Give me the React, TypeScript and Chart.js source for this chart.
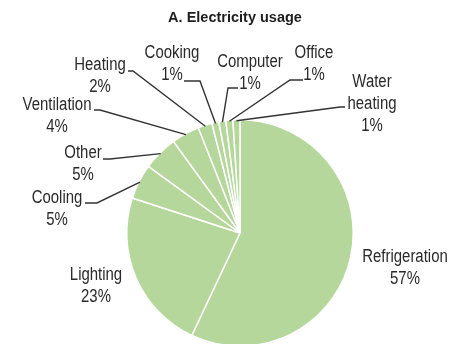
import React, { useEffect, useRef } from "react";
import { Chart, registerables } from "chart.js";

Chart.register(...registerables);

const TITLE = "A. Electricity usage";
const categories = [
  "Refrigeration",
  "Lighting",
  "Cooling",
  "Other",
  "Ventilation",
  "Heating",
  "Cooking",
  "Computer",
  "Office",
  "Water heating",
];
const shares = [57, 23, 5, 5, 4, 2, 1, 1, 1, 1];

// Label layout (text centre x, first-line y, optional leader start and elbow)
type LabelPos = { x: number; y: number; start?: [number, number]; elbow?: [number, number] };
const labelLayout: LabelPos[] = [
  { x: 405, y: 257 },
  { x: 96, y: 275 },
  { x: 57, y: 198, start: [85, 203], elbow: [97, 203] },
  { x: 83, y: 153, start: [103, 159], elbow: [110, 159] },
  { x: 57, y: 105, start: [94, 110], elbow: [100, 110] },
  { x: 100, y: 65, start: [128, 71], elbow: [133, 71] },
  { x: 172, y: 53, start: [184, 81], elbow: [200, 81] },
  { x: 250, y: 62, start: [238, 88], elbow: [228, 88] },
  { x: 314, y: 53, start: [303, 80], elbow: [290, 80] },
  { x: 372, y: 82, start: [345, 107], elbow: [340, 107] },
];

const FONT = '18px "Liberation Sans", Arial, sans-serif';
const NARROW = 0.83;
const TEXT_COLOR = "#2a2a2a";
const LINE_H = 22;

const labelPlugin = {
  id: "pieLabels",
  afterDraw(chart: any) {
    const ctx = chart.ctx as CanvasRenderingContext2D;
    const meta = chart.getDatasetMeta(0);
    ctx.save();
    // title
    ctx.fillStyle = "#1e1e1e";
    ctx.font = 'bold 14.5px "Liberation Sans", Arial, sans-serif';
    ctx.textAlign = "center";
    ctx.textBaseline = "middle";
    ctx.fillText(TITLE, 235, 18);

    meta.data.forEach((arc: any, i: number) => {
      const p = arc.getProps(["x", "y", "startAngle", "endAngle", "outerRadius"], true);
      const mid = (p.startAngle + p.endAngle) / 2;
      const lay = labelLayout[i];
      if (lay.start && lay.elbow) {
        const ex = p.x + Math.cos(mid) * (p.outerRadius - 1);
        const ey = p.y + Math.sin(mid) * (p.outerRadius - 1);
        ctx.strokeStyle = "#333333";
        ctx.lineWidth = 1.4;
        ctx.beginPath();
        ctx.moveTo(lay.start[0], lay.start[1]);
        ctx.lineTo(lay.elbow[0], lay.elbow[1]);
        ctx.lineTo(ex, ey);
        ctx.stroke();
      }
      const lines = [...categories[i].split(" "), `${shares[i]}%`];
      ctx.fillStyle = TEXT_COLOR;
      ctx.font = FONT;
      lines.forEach((ln, k) => {
        ctx.save();
        ctx.translate(lay.x, lay.y + k * LINE_H);
        ctx.scale(NARROW, 1);
        ctx.fillText(ln, 0, 0);
        ctx.restore();
      });
    });
    ctx.restore();
  },
};

export default function App() {
  const ref = useRef<HTMLCanvasElement | null>(null);
  useEffect(() => {
    if (!ref.current) return;
    const chart = new Chart(ref.current, {
      type: "pie",
      data: {
        labels: categories,
        datasets: [
          {
            data: shares,
            backgroundColor: "#b5d79b",
            borderColor: "#ffffff",
            borderWidth: 1.5,
          },
        ],
      },
      options: {
        responsive: false,
        animation: false,
        events: [],
        layout: { padding: { left: 126, right: 107, top: 119, bottom: 33 } },
        plugins: {
          legend: { display: false },
          tooltip: { enabled: false },
          title: { display: false },
        },
      },
      plugins: [labelPlugin],
    });
    return () => chart.destroy();
  }, []);
  return (
    <div
      style={{
        position: "fixed",
        left: 0,
        top: 0,
        width: 461,
        height: 344,
        overflow: "hidden",
        background: "#fff",
      }}
    >
      <canvas ref={ref} width={461} height={380} style={{ width: 461, height: 380, display: "block" }} />
    </div>
  );
}
